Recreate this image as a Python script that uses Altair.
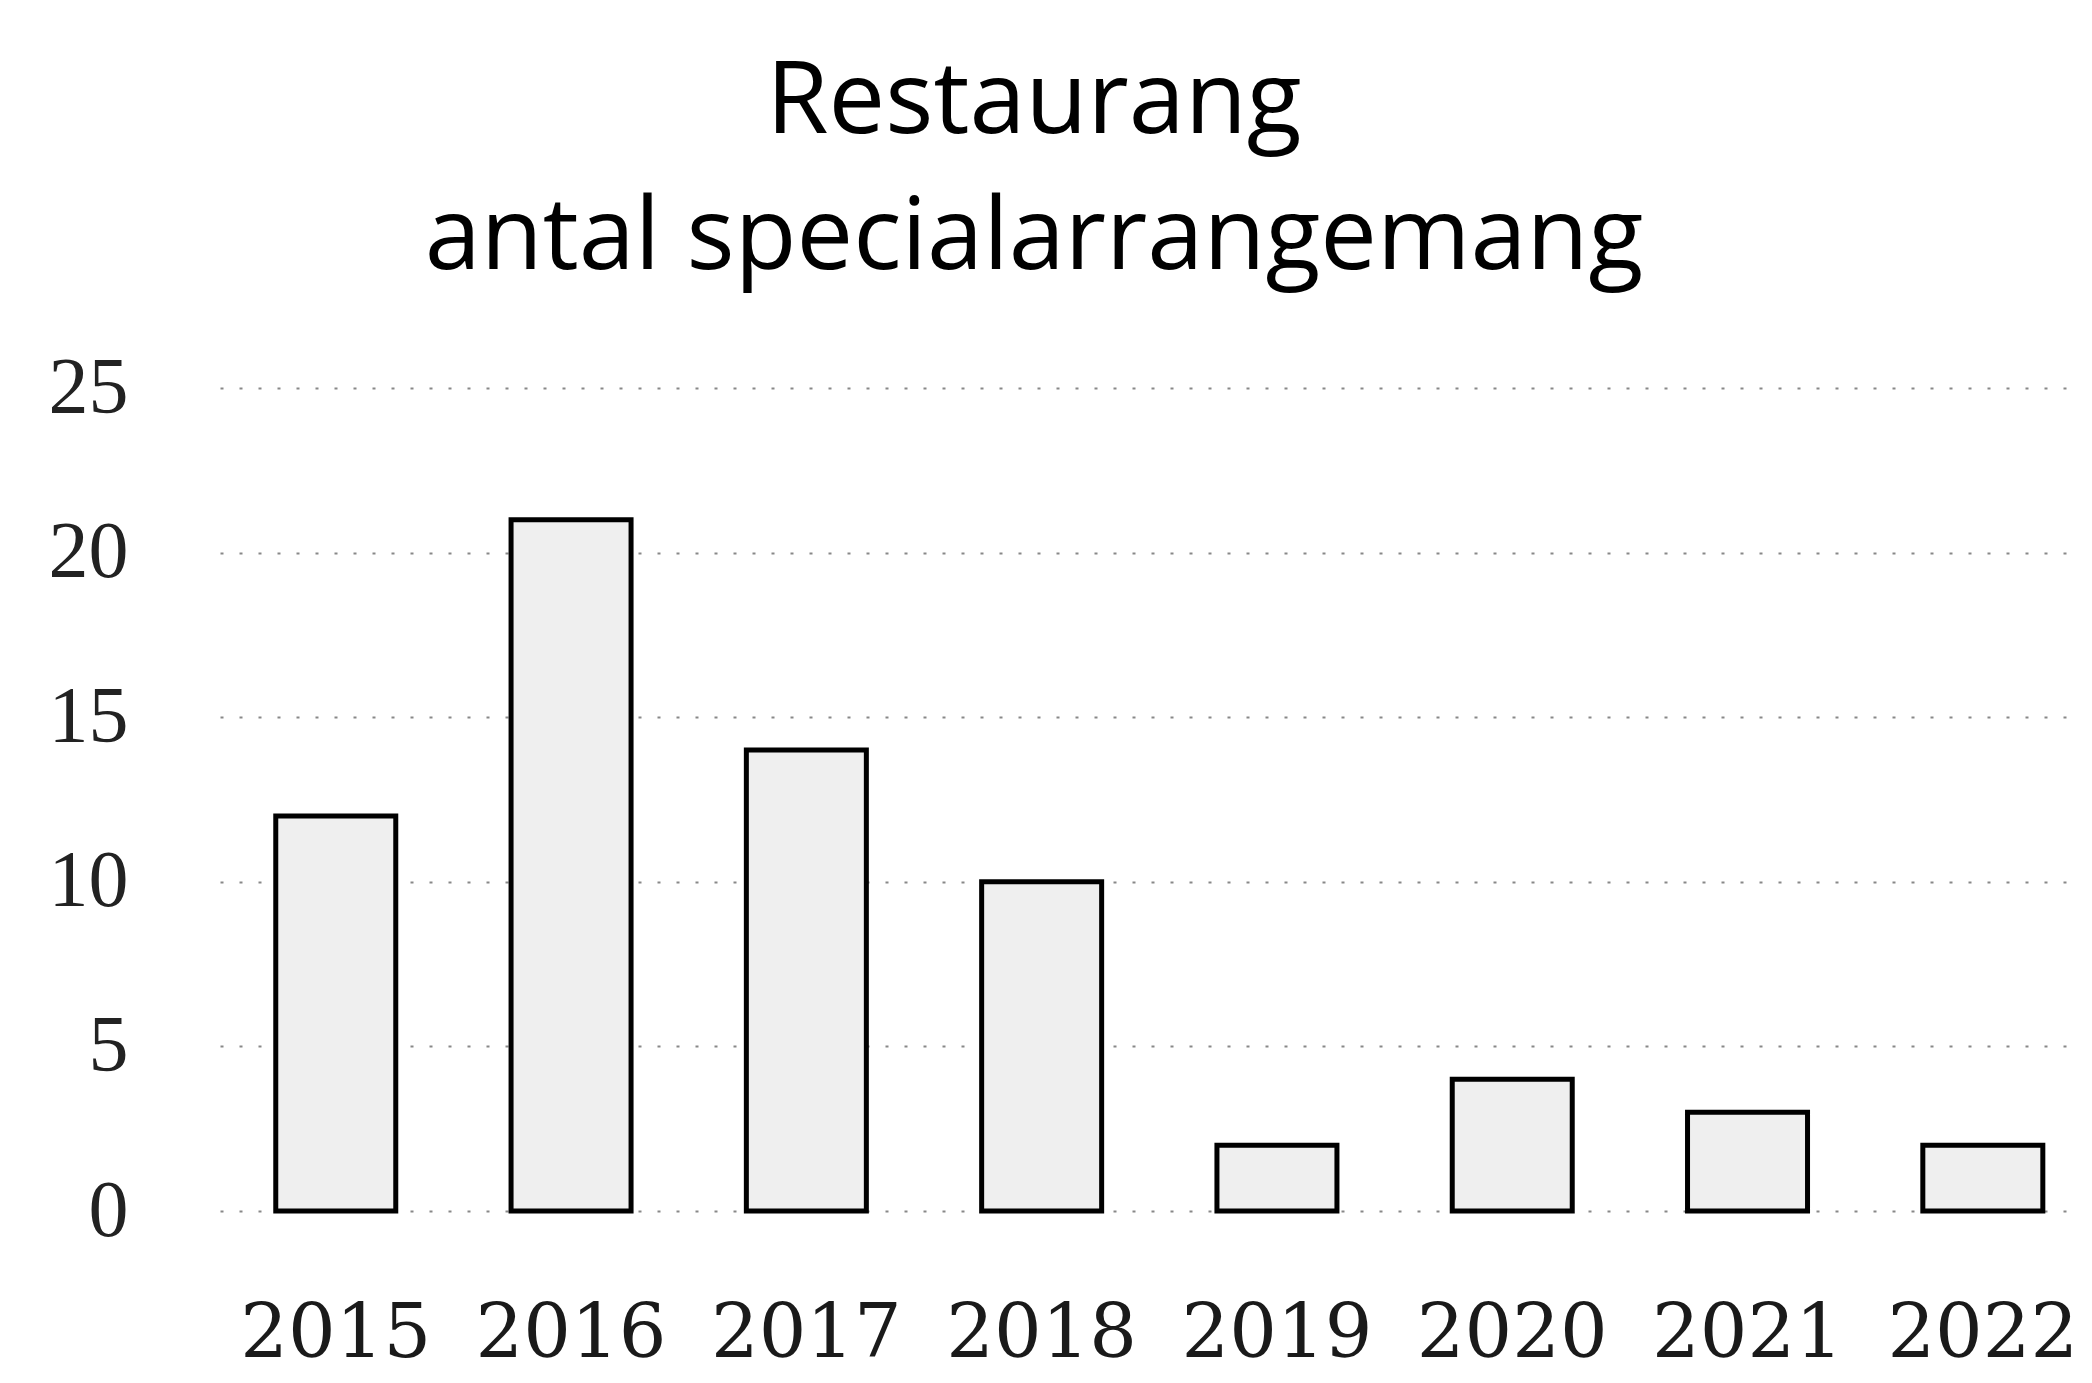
import altair as alt
import pandas as pd

years = ["2015", "2016", "2017", "2018", "2019", "2020", "2021", "2022"]
counts = [12, 21, 14, 10, 2, 4, 3, 2]
y_ticks = [0, 5, 10, 15, 20, 25]

df = pd.DataFrame({"year": years, "count": counts})

chart = alt.Chart(df).mark_bar(
    fill="#efefef", stroke="#000000", strokeWidth=5
).encode(
    x=alt.X("year:N", sort=years,
            scale=alt.Scale(paddingInner=0.49, paddingOuter=0.1975, align=0.6),
            axis=alt.Axis(title=None, labelAngle=0, domain=False, ticks=False,
                          labelFont="DejaVu Serif", labelFontSize=75,
                          labelLimit=0, labelOverlap=False,
                          labelColor="#1a1a1a", labelPadding=86)),
    y=alt.Y("count:Q", scale=alt.Scale(domain=[0, 25]),
            axis=alt.Axis(title=None, values=y_ticks, domain=False, ticks=False,
                          labelFont="Liberation Serif", labelFontSize=80,
                          labelColor="#222222", labelPadding=92,
                          grid=True, gridColor="#888888", gridWidth=2,
                          gridDash=[3, 16])),
).properties(
    width=1860,
    height=823,
    title=alt.TitleParams(
        text=["Restaurang", "antal specialarrangemang"],
        font="Open Sans", fontSize=101, fontWeight="normal", color="#000000",
        anchor="middle", lineHeight=136, offset=58, dx=-116,
    ),
    autosize=alt.AutoSizeParams(type="none"),
    padding={"left": 212, "top": 380, "right": 0, "bottom": 172},
).configure_view(stroke=None)

chart.save("out.html", embed_options={"renderer": "svg", "actions": False})
